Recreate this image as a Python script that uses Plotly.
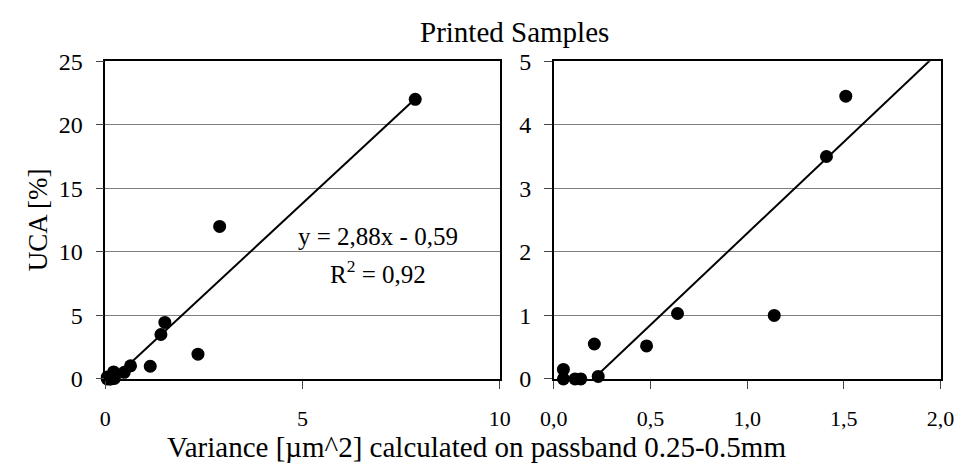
import plotly.graph_objects as go

# ---- data ----
variance = [0.05, 0.05, 0.11, 0.14, 0.21, 0.23, 0.48, 0.64, 1.14, 1.41, 1.51, 2.35, 2.90, 7.86]
uca = [0.15, 0.00, 0.00, 0.00, 0.55, 0.04, 0.52, 1.03, 1.00, 3.50, 4.45, 1.95, 12.0, 22.0]
slope, intercept = 2.88, -0.59

left_xticks = [0, 5, 10]
left_xticktext = ["0", "5", "10"]
left_yticks = [0, 5, 10, 15, 20, 25]
right_xticks = [0.0, 0.5, 1.0, 1.5, 2.0]
right_xticktext = ["0,0", "0,5", "1,0", "1,5", "2,0"]
right_yticks = [0, 1, 2, 3, 4, 5]

title_text = "Printed Samples"
xtitle_text = "Variance [µm^2] calculated on passband 0.25-0.5mm"
ytitle_text = "UCA [%]"
eq_text = "y = 2,88x - 0,59"
r2_text = "R<sup>2</sup> = 0,92"

FONT = "Liberation Serif"

xmin, xmax = min(variance), max(variance)
trend_x = [xmin, xmax]
trend_y = [slope * v + intercept for v in trend_x]

right_pts = [(a, b) for a, b in zip(variance, uca) if a <= 2.0 and b <= 5.0]
rx = [p[0] for p in right_pts]
ry = [p[1] for p in right_pts]

fig = go.Figure()

# left panel
fig.add_trace(go.Scatter(x=trend_x, y=trend_y, mode="lines",
                         line=dict(color="black", width=2), xaxis="x", yaxis="y",
                         showlegend=False, hoverinfo="skip"))
fig.add_trace(go.Scatter(x=variance, y=uca, mode="markers",
                         marker=dict(color="black", size=13), xaxis="x", yaxis="y",
                         showlegend=False, cliponaxis=False))
# right panel
fig.add_trace(go.Scatter(x=trend_x, y=trend_y, mode="lines",
                         line=dict(color="black", width=2), xaxis="x2", yaxis="y2",
                         showlegend=False, hoverinfo="skip"))
fig.add_trace(go.Scatter(x=rx, y=ry, mode="markers",
                         marker=dict(color="black", size=13), xaxis="x2", yaxis="y2",
                         showlegend=False, cliponaxis=False))

W, H = 974, 472
ydom = [(H - 387.3) / H, (H - 51) / H]

common_x = dict(showgrid=False, zeroline=False, showline=True, linecolor="black",
                linewidth=1.5, mirror=True, ticks="outside", ticklen=8, tickcolor="#444",
                tickfont=dict(family=FONT, size=22, color="black"), ticklabelstandoff=11)
common_y = dict(showgrid=True, gridcolor="#7f7f7f", gridwidth=1, zeroline=False,
                showline=True, linecolor="black", linewidth=1.5, mirror=True,
                ticks="outside", ticklen=8, tickcolor="#444",
                tickfont=dict(family=FONT, size=24, color="black"), ticklabelstandoff=8)

fig.update_layout(
    width=W, height=H,
    margin=dict(l=0, r=0, t=0, b=0),
    paper_bgcolor="white", plot_bgcolor="white",
    font=dict(family=FONT, color="black"),
    xaxis=dict(domain=[94 / W, 500 / W], range=[0, 10], tickvals=left_xticks,
               ticktext=left_xticktext, anchor="y", **common_x),
    yaxis=dict(domain=ydom, range=[0, 25], tickvals=left_yticks, anchor="x", **common_y),
    xaxis2=dict(domain=[555.7 / W, 954 / W], range=[0, 2], tickvals=right_xticks,
                ticktext=right_xticktext, anchor="y2", **common_x),
    yaxis2=dict(domain=ydom, range=[0, 5], tickvals=right_yticks, anchor="x2", **common_y),
    annotations=[
        dict(text=title_text, x=515 / W, y=1 - 20 / H, xref="paper", yref="paper",
             showarrow=False, font=dict(family=FONT, size=29), xanchor="center", yanchor="middle"),
        dict(text=xtitle_text, x=476 / W, y=1 - 459 / H, xref="paper", yref="paper",
             showarrow=False, font=dict(family=FONT, size=29), xanchor="center", yanchor="middle"),
        dict(text=ytitle_text, x=25 / W, y=1 - 219 / H, xref="paper", yref="paper",
             showarrow=False, textangle=-90, font=dict(family=FONT, size=27),
             xanchor="center", yanchor="middle"),
        dict(text=eq_text, x=375 / W, y=1 - 236 / H, xref="paper", yref="paper",
             showarrow=False, font=dict(family=FONT, size=25), xanchor="center", yanchor="middle"),
        dict(text=r2_text, x=375 / W, y=1 - 274 / H, xref="paper", yref="paper",
             showarrow=False, font=dict(family=FONT, size=25), xanchor="center", yanchor="middle"),
    ],
)

fig.write_html("out.html")
